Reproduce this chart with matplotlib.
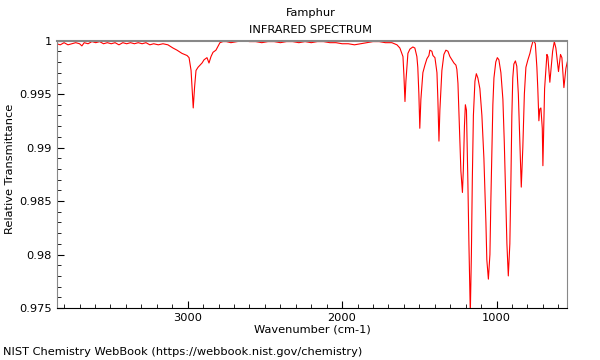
import matplotlib
matplotlib.use("Agg")
import matplotlib.pyplot as plt
from matplotlib.ticker import MultipleLocator

# Spectrum points (wavenumber, relative transmittance)
wavenumber = [
    3848, 3825, 3800, 3775, 3750, 3725, 3700, 3685, 3670, 3645, 3620, 3595, 3570, 3545,
    3520, 3495, 3470, 3445, 3420, 3395, 3370, 3345, 3320, 3295, 3270, 3245, 3220, 3190,
    3160, 3128, 3095, 3069, 3037, 3004, 2991, 2978, 2972, 2964, 2955, 2946, 2933, 2907,
    2894, 2875, 2862, 2849, 2836, 2817, 2791, 2771,
    2750, 2720, 2680, 2640, 2600, 2560, 2520, 2480, 2440, 2400, 2360, 2320, 2280, 2240,
    2200, 2160, 2120, 2080, 2040, 2000, 1960, 1920, 1880, 1840, 1800, 1760, 1720,
    1678, 1645, 1626, 1606, 1600, 1593, 1587, 1574, 1561, 1542, 1529, 1516, 1510, 1503,
    1497, 1490, 1477, 1464, 1451, 1438, 1432, 1419, 1412, 1399, 1386, 1380, 1373, 1367,
    1354, 1341, 1328, 1315, 1302, 1289, 1276, 1263, 1257, 1250, 1244, 1237, 1231, 1221,
    1215, 1208, 1202, 1195, 1186, 1179, 1170, 1163, 1157, 1150, 1140, 1131, 1121, 1108,
    1095, 1082, 1069, 1063, 1053, 1043, 1037, 1030, 1024, 1017, 1005, 995, 985, 972,
    959, 950, 940, 933, 924, 914, 907, 901, 895, 888, 878, 869, 859, 849, 840, 830, 820,
    810, 797, 784, 775, 765, 760, 749, 739, 733, 726, 720, 713, 704, 700, 689,
    674, 668, 655, 637, 626, 616, 599, 586, 577, 564, 551, 542,
]
transmittance = [
    0.9997, 0.9996, 0.9998, 0.9996, 0.9997, 0.9998, 0.9997, 0.9995, 0.9998, 0.9997, 0.9999, 0.9998, 0.9999, 0.9997,
    0.9998, 0.9997, 0.9998, 0.9996, 0.9998, 0.9997, 0.9998, 0.9997, 0.9998, 0.9997, 0.9998, 0.9996, 0.9997, 0.9996,
    0.9997, 0.9996, 0.9993, 0.9991, 0.9988, 0.9986, 0.9984, 0.9972, 0.9957, 0.9937, 0.9957, 0.9972, 0.9975, 0.9979,
    0.9982, 0.9984, 0.9979, 0.9985, 0.9989, 0.9991, 0.9998, 0.9999,
    0.9999, 0.9998, 0.9999, 1.0000, 0.9999, 0.9999, 0.9998, 0.9999, 0.9999, 0.9998, 0.9999, 0.9999, 0.9998, 0.9999,
    0.9998, 0.9999, 0.9999, 0.9998, 0.9998, 0.9997, 0.9997, 0.9996, 0.9997, 0.9998, 0.9999, 0.9999, 0.9998,
    0.9998, 0.9996, 0.9993, 0.9985, 0.9968, 0.9943, 0.9962, 0.9988, 0.9992, 0.9994, 0.9993, 0.9985, 0.9975, 0.9950,
    0.9918, 0.9945, 0.9970, 0.9977, 0.9983, 0.9986, 0.9991, 0.9990, 0.9986, 0.9984, 0.9970, 0.9945, 0.9906, 0.9935,
    0.9972, 0.9987, 0.9991, 0.9990, 0.9985, 0.9982, 0.9979, 0.9977, 0.9973, 0.9960, 0.9935, 0.9905, 0.9878, 0.9858,
    0.9880, 0.9920, 0.9940, 0.9935, 0.9870, 0.9810, 0.9745, 0.9800, 0.9870, 0.9930, 0.9962, 0.9969, 0.9965, 0.9955,
    0.9930, 0.9890, 0.9830, 0.9795, 0.9777, 0.9800, 0.9850, 0.9900, 0.9940, 0.9965, 0.9980, 0.9984, 0.9982, 0.9970,
    0.9945, 0.9905, 0.9850, 0.9810, 0.9780, 0.9810, 0.9870, 0.9930, 0.9965, 0.9978, 0.9981, 0.9976, 0.9950, 0.9905, 0.9863, 0.9900, 0.9950,
    0.9975, 0.9982, 0.9988, 0.9994, 0.9999, 1.0000, 0.9997, 0.9975, 0.9955, 0.9925, 0.9936, 0.9937, 0.9918, 0.9883, 0.9955,
    0.9987, 0.9985, 0.9961, 0.9990, 0.9999, 0.9993, 0.9971, 0.9987, 0.9984, 0.9956, 0.9974, 0.9980,
]

y_ticks = [0.975, 0.98, 0.985, 0.99, 0.995, 1.0]
y_tick_labels = ["0.975", "0.98", "0.985", "0.99", "0.995", "1"]
x_ticks = [3000, 2000, 1000]

plt.rcParams['font.size'] = 8.2

fig = plt.figure(figsize=(6, 3.6), dpi=100)
ax = fig.add_axes([0.0945, 0.1444, 0.851, 0.743])

ax.plot(wavenumber, transmittance, color='red', linewidth=0.8)

ax.set_xlim(3848, 542)
ax.set_ylim(0.975, 1.0)
ax.set_xticks(x_ticks)
ax.xaxis.set_minor_locator(MultipleLocator(100))
ax.set_yticks(y_ticks)
ax.set_yticklabels(y_tick_labels)
ax.yaxis.set_minor_locator(MultipleLocator(0.001))
ax.tick_params(which='both', direction='in', top=False, right=False)
ax.tick_params(which='major', length=5)
ax.tick_params(which='minor', length=3)

for side in ['top', 'right', 'left']:
    ax.spines[side].set_color('#888888')
ax.spines['top'].set_linewidth(1.5)

ax.set_xlabel('Wavenumber (cm-1)', labelpad=1)
ax.set_ylabel('Relative Transmittance')
ax.yaxis.set_label_coords(-0.082, 0.52)

fig.text(0.518, 0.964, 'Famphur', ha='center', va='center')
fig.text(0.518, 0.917, 'INFRARED SPECTRUM', ha='center', va='center')
fig.text(0.005, 0.022, 'NIST Chemistry WebBook (https://webbook.nist.gov/chemistry)', va='center')

fig.savefig('out.png')
